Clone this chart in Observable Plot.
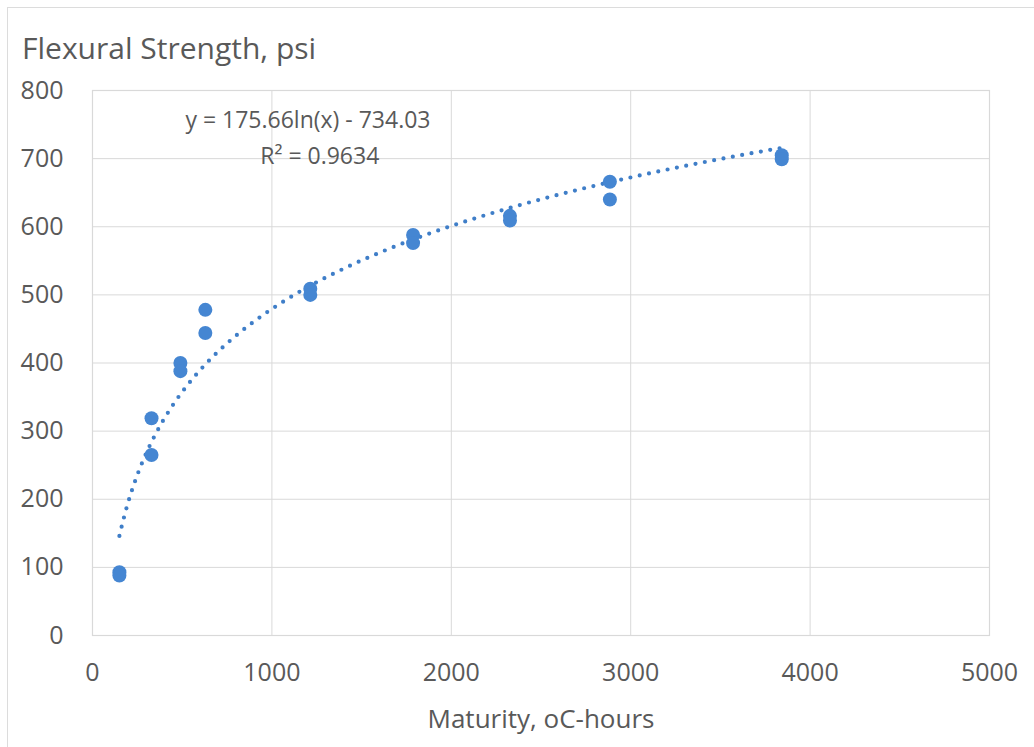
<!DOCTYPE html>
<html>
<head>
<meta charset="utf-8">
<script src="https://cdn.jsdelivr.net/npm/d3@7"></script>
<script src="https://cdn.jsdelivr.net/npm/@observablehq/plot@0.6"></script>
<style>
  html, body { margin: 0; padding: 0; background: #fff; }
  #wrap { position: relative; width: 1034px; height: 747px; overflow: hidden; background: #fff; }
  #border { position: absolute; left: 7px; top: 7px; width: 1040px; height: 760px; border-top: 1.5px solid #dcdcdc; border-left: 1.5px solid #dcdcdc; }
  #title { position: absolute; left: 22px; top: 27px; font-family: "Open Sans", sans-serif; font-size: 30px; color: #595959; white-space: nowrap; }
  #chart { position: absolute; left: 0; top: 70px; }
</style>
</head>
<body>
<div id="wrap">
  <div id="border"></div>
  <div id="title">Flexural Strength, psi</div>
  <div id="chart"></div>
</div>
<script>
// Data
const maturity = [150, 150, 329, 329, 490, 490, 629, 629, 1214, 1214, 1787, 1787, 2327, 2327, 2884, 2884, 3842, 3842];
const strength = [93, 88, 319, 265, 400, 388, 478, 444, 509, 500, 588, 576, 616, 609, 666, 640, 705, 699];

// Trendline coefficients shown on the chart: y = a ln(x) + b
const trendA = 175.66;
const trendB = -734.03;
const trendLabels = ["y = 175.66ln(x) - 734.03", "R² = 0.9634"];
const trendLabelX = [518, 935];
const trendLabelY = [756, 703];

const xTicks = [0, 1000, 2000, 3000, 4000, 5000];
const yTicks = [0, 100, 200, 300, 400, 500, 600, 700, 800];

const points = maturity.map((m, i) => ({x: m, y: strength[i]}));
const xMin = d3.min(maturity), xMax = d3.max(maturity);
const trend = d3.range(0, 201).map(i => {
  const x = xMin + (xMax - xMin) * i / 200;
  return {x, y: trendA * Math.log(x) + trendB};
});
const labels = trendLabels.map((t, i) => ({t, x: trendLabelX[i], y: trendLabelY[i]}));

const textColor = "#595959";
const gridColor = "#d9d9d9";
const blue = "#4586d2";
const fmt = d => String(d);

const chart = Plot.plot({
  width: 1034,
  height: 677,
  marginTop: 20,
  marginBottom: 112,
  marginLeft: 92,
  marginRight: 45,
  style: {fontFamily: "'Open Sans', sans-serif", color: textColor, background: "transparent"},
  x: {domain: [0, 5000]},
  y: {domain: [0, 800]},
  marks: [
    Plot.gridX(xTicks, {stroke: gridColor, strokeOpacity: 1, strokeWidth: 1}),
    Plot.gridY(yTicks, {stroke: gridColor, strokeOpacity: 1, strokeWidth: 1}),
    Plot.frame({stroke: gridColor, strokeWidth: 1.2}),
    Plot.axisX(xTicks, {tickSize: 0, tickPadding: 28, fontSize: 25, fill: textColor, tickFormat: fmt,
      label: "Maturity, oC-hours", labelAnchor: "center", labelArrow: "none", labelOffset: 92}),
    Plot.axisY(yTicks, {tickSize: 0, tickPadding: 29, fontSize: 25, fill: textColor, tickFormat: fmt, label: null}),
    Plot.line(trend, {x: "x", y: "y", stroke: "#3f7ec8", strokeWidth: 4.2,
      strokeDasharray: "0 9.5", strokeLinecap: "round"}),
    Plot.dot(points, {x: "x", y: "y", r: 7, fill: blue, stroke: "none"}),
    Plot.text(labels, {x: "x", y: "y", text: "t", textAnchor: "start", fontSize: 23, fill: textColor})
  ]
});
document.getElementById("chart").appendChild(chart);
// match axis-label size to the reference
chart.querySelectorAll("[aria-label='x-axis label'] text").forEach(t => t.setAttribute("font-size", 26));
</script>
</body>
</html>
